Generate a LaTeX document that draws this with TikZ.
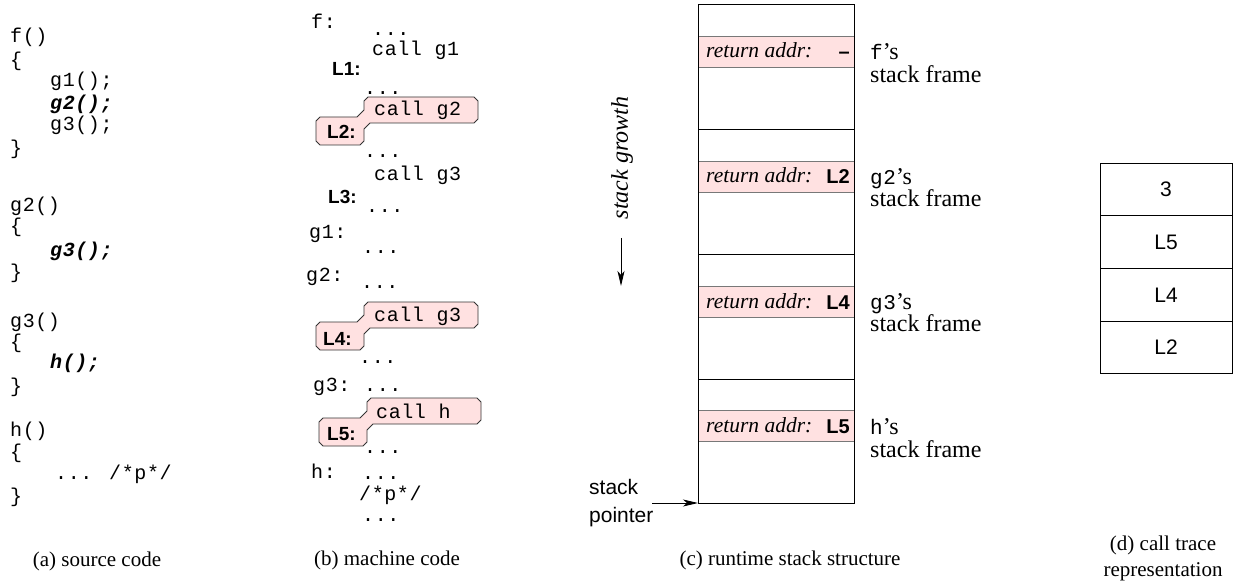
\documentclass[tikz,border=0pt]{standalone}
\usepackage{fontspec}
\setmainfont{Liberation Serif}
\setsansfont{Liberation Sans}
\newfontfamily\monof[LetterSpace=3]{Liberation Mono}
\usetikzlibrary{arrows.meta}
\definecolor{pinkfill}{RGB}{255,225,225}
\definecolor{bandline}{RGB}{120,120,120}
\tikzset{
  txt/.style={inner sep=0pt, anchor=base west},
  code/.style={txt, font=\monof\fontsize{20}{22}\selectfont},
  codebi/.style={txt, font=\monof\fontsize{20}{22}\selectfont\bfseries\itshape},
  lab/.style={txt, font=\sffamily\bfseries\fontsize{19}{22}\selectfont},
  captxt/.style={inner sep=0pt, font=\fontsize{21}{24}\selectfont},
  framelab/.style={txt, font=\fontsize{24}{26}\selectfont},
  retaddr/.style={txt, font=\itshape\fontsize{21.5}{24}\selectfont},
  retval/.style={inner sep=0pt, anchor=base east, font=\sffamily\bfseries\fontsize{20}{22}\selectfont},
  sptext/.style={txt, font=\sffamily\fontsize{21}{24}\selectfont},
  cell/.style={draw, line width=1pt, minimum width=132pt, minimum height=52.75pt, inner sep=0pt, font=\sffamily\fontsize{21}{24}\selectfont},
  callline/.style={draw=black!80, line width=0.8pt, fill=pinkfill},
  arr/.style={line width=0.9pt, -{Stealth[length=15pt, width=7pt, inset=4pt]}},
  callout/.pic={\path[callline] (-44,20) -- (-7,20) -- (0,13) -- (0,4) -- (4,0) -- (110,0) -- (114,4) -- (114,22) -- (110,26) -- (6,26) -- (0,32) -- (0,44) -- (-4,48) -- (-44,48) -- (-48,44) -- (-48,24) -- cycle;}
}
\newcommand{\mf}[1]{{\monof\fontsize{21}{24}\selectfont #1}}
\begin{document}
\begin{tikzpicture}[x=1pt, y=-1pt]
\useasboundingbox (0,0) rectangle (1238,585);

% ---------- (a) source code ----------
\node[code] (a1) at (10,43) {f()};
\node[code] (a2) at (10,67) {\{};
\node[code] (a3) at (50,87) {g1();};
\node[codebi] (a4) at (50,110) {g2();};
\node[code] (a5) at (50,131) {g3();};
\node[code] (a6) at (10,155) {\}};
\node[code] (a7) at (10,212) {g2()};
\node[code] (a8) at (10,233) {\{};
\node[codebi] (a9) at (50,256) {g3();};
\node[code] (a10) at (10,278) {\}};
\node[code] (a11) at (10,327) {g3()};
\node[code] (a12) at (10,348) {\{};
\node[codebi] (a13) at (50,368) {h();};
\node[code] (a14) at (10,392) {\}};
\node[code] (a15) at (10,436) {h()};
\node[code] (a16) at (10,458) {\{};
\node[code] (a17) at (55,479) {... /*p*/};
\node[code] (a18) at (10,502) {\}};
\node[captxt] (capa) at (97,561) {(a) source code};

% ---------- (b) machine code ----------
\pic at (364,97) {callout};
\pic at (364,302) {callout};
\pic at (367,398) {callout};

\node[code] (b1) at (311,29) {f:};
\node[code] (b2) at (372,36) {...};
\node[code] (b3) at (372,56) {call g1};
\node[lab] (l1) at (332,76) {L1:};
\node[code] (b4) at (364,95) {...};
\node[code] (b5) at (374,116) {call g2};
\node[lab] (l2) at (327,139) {L2:};
\node[code] (b6) at (364,158) {...};
\node[code] (b7) at (374,181) {call g3};
\node[lab] (l3) at (328,204) {L3:};
\node[code] (b8) at (366,213) {...};
\node[code] (b9) at (309,239) {g1:};
\node[code] (b10) at (362,253) {...};
\node[code] (b11) at (306,281) {g2:};
\node[code] (b12) at (361,288) {...};
\node[code] (b13) at (374,321) {call g3};
\node[lab] (l4) at (323,345) {L4:};
\node[code] (b14) at (359,363) {...};
\node[code] (b15) at (313,391) {g3:};
\node[code] (b16) at (364,391) {...};
\node[code] (b17) at (376,418) {call h};
\node[lab] (l5) at (327,440) {L5:};
\node[code] (b18) at (364,453) {...};
\node[code] (b19) at (311,478) {h:};
\node[code] (b20) at (362,479) {...};
\node[code] (b21) at (359,500) {/*p*/};
\node[code] (b22) at (362,521) {...};
\node[captxt] (capb) at (387,560) {(b) machine code};

% ---------- (c) runtime stack ----------
\foreach \t in {36,161,286,410}{
  \fill[pinkfill] (698,\t) rectangle (854,\t+31);
  \draw[bandline, line width=0.9pt] (698,\t) -- (854,\t) (698,\t+31) -- (854,\t+31);
}
\foreach \t in {129.5,254.5,379}{
  \draw[line width=1pt] (698,\t) -- (854,\t);
}
\draw[line width=1pt] (698,5) rectangle (854,503);

\foreach \t/\v/\n in {36/--/r1,161/L2/r2,286/L4/r3,410/L5/r4}{
  \node[retaddr] (\n) at (706,\t+22) {return addr:};
  \node[retval] (\n v) at (850,\t+23) {\v};
}

\node[framelab] (f1) at (870,60) {\mf{f}’s};
\node[framelab] (f1b) at (870,83) {stack frame};
\node[framelab] (f2) at (870,185) {\mf{g2}’s};
\node[framelab] (f2b) at (870,207) {stack frame};
\node[framelab] (f3) at (870,309) {\mf{g3}’s};
\node[framelab] (f3b) at (870,331) {stack frame};
\node[framelab] (f4) at (870,434) {\mf{h}’s};
\node[framelab] (f4b) at (870,457) {stack frame};

\node[inner sep=0pt, rotate=90, font=\itshape\fontsize{24}{26}\selectfont] (growth) at (622,158) {stack growth};
\coordinate (ga) at (621,238);
\coordinate (gb) at (621,286);
\draw[arr] (ga) -- (gb);

\node[sptext] (sp1) at (589,494) {stack};
\node[sptext] (sp2) at (589,522) {pointer};
\coordinate (spa) at (652,503);
\coordinate (spb) at (698,503);
\draw[arr] (spa) -- (spb);
\node[captxt] (capc) at (790,560) {(c) runtime stack structure};

% ---------- (d) call trace ----------
\node[cell] (c1) at (1166,189.4) {3};
\node[cell] (c2) at (1166,242.1) {L5};
\node[cell] (c3) at (1166,294.9) {L4};
\node[cell] (c4) at (1166,347.6) {L2};
\node[captxt] (capd1) at (1163,545) {(d) call trace};
\node[captxt] (capd2) at (1163,572) {representation};
\end{tikzpicture}
\end{document}
